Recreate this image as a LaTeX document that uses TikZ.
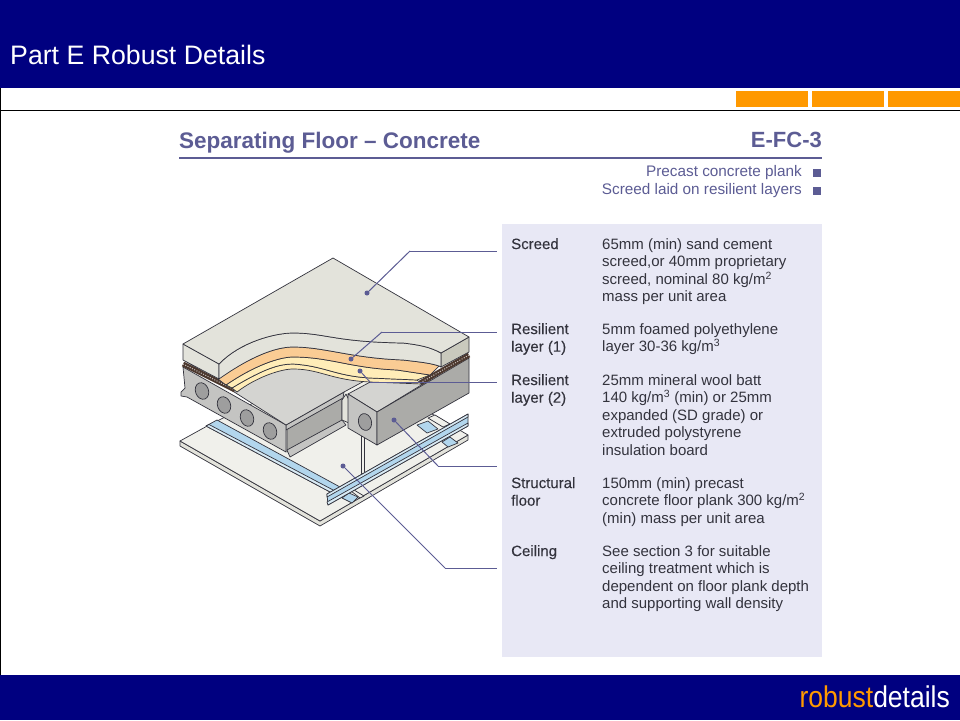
\documentclass[tikz,border=0pt]{standalone}
\usepackage{fontspec}
\setmainfont{Liberation Sans}
\newfontface\labfont[FakeBold=0.2]{Liberation Sans}
\usepackage{tikz}
\usetikzlibrary{positioning,shapes}
\definecolor{navy}{rgb}{0,0,0.5}
\definecolor{orng}{rgb}{1,0.6,0}
\definecolor{slate}{rgb}{0.36,0.36,0.58}
\definecolor{panel}{rgb}{0.91,0.91,0.96}
\definecolor{ink}{rgb}{0.2,0.2,0.24}
\definecolor{screedc}{rgb}{0.89,0.89,0.86}
\definecolor{screedd}{rgb}{0.79,0.79,0.74}
\definecolor{foam}{rgb}{0.98,0.80,0.58}
\definecolor{wool}{rgb}{1,0.93,0.72}
\definecolor{plankt}{rgb}{0.83,0.83,0.82}
\definecolor{plankl}{rgb}{0.77,0.77,0.76}
\definecolor{plankd}{rgb}{0.67,0.67,0.66}
\definecolor{holec}{rgb}{0.62,0.62,0.62}
\definecolor{ceil}{rgb}{0.94,0.94,0.92}
\definecolor{chan}{rgb}{0.70,0.84,0.93}
\definecolor{chanl}{rgb}{0.85,0.92,0.96}
\definecolor{strip}{rgb}{0.30,0.22,0.18}
\begin{document}
\begin{tikzpicture}[x=1pt,y=-1pt]
\tikzstyle{txt}=[inner sep=0pt,anchor=north west,align=left,text=ink,font=\fontsize{15}{17.6}\selectfont]
\tikzstyle{lab}=[txt,font=\fontsize{15}{17.6}\selectfont\labfont]
\tikzstyle{bull}=[txt,anchor=east,text=slate,font=\fontsize{15.3}{17.6}\selectfont]
\tikzstyle{bullet}=[rectangle,fill=slate,inner sep=0pt,minimum size=8pt]
\tikzstyle{tab}=[rectangle,fill=orng,inner sep=0pt,minimum width=72pt,minimum height=16pt]
\tikzstyle{dot}=[circle,fill=slate,inner sep=0pt,minimum size=5pt]
\tikzstyle{leader}=[draw=slate,line width=1pt]
\tikzstyle{part}=[draw=ink,line width=0.7pt,line join=round]
\tikzstyle{hole}=[ellipse,part,fill=holec,inner sep=0pt,minimum width=13pt,minimum height=17pt,rotate=20]
\tikzstyle{band}=[draw=strip,line width=5pt]

\useasboundingbox (0,0) rectangle (960,720);
\fill[white] (0,0) rectangle (960,720);

% frame
\fill[navy] (0,0) rectangle (960,88);
\fill[navy] (0,675) rectangle (960,720);
\draw[black,line width=1pt] (0,110.5) -- (960,110.5);
\draw[black,line width=1pt] (0.5,88) -- (0.5,675);
\node[tab] (tab1) at (772,99) {};
\node[tab] (tab2) at (848,99) {};
\node[tab] (tab3) at (924,99) {};
\node[inner sep=0pt,anchor=base west,text=white,font=\fontsize{26.7}{27}\selectfont] (title) at (10,64.5) {Part E Robust Details};
\node[inner sep=0pt,anchor=base east,xscale=0.883,font=\fontsize{30}{30}\selectfont] (logo) at (950,707) {\textcolor{orng}{robust}\textcolor{white}{details}};

% heading
\node[inner sep=0pt,anchor=base west,text=slate,font=\fontsize{22.5}{23}\selectfont\bfseries] (head) at (179,148.5) {Separating Floor -- Concrete};
\node[inner sep=0pt,anchor=base east,text=slate,font=\fontsize{22}{23}\selectfont\bfseries] (code) at (822,147.5) {E-FC-3};
\fill[slate] (179,156.5) rectangle (822,159);
\node[bull] (b1) at (802,173) {Precast concrete plank};
\node[bull] (b2) at (802,191) {Screed laid on resilient layers};
\node[bullet] (s1) at (817,172.5) {};
\node[bullet] (s2) at (817,190.5) {};

% table
\fill[panel] (502,224) rectangle (822,657);
\node[lab] (t1) at (511,238) {Screed};
\node[txt] (d1) at (602,238) {65mm (min) sand cement\\screed,or 40mm proprietary\\screed, nominal 80 kg/m\textsuperscript{2}\\mass per unit area};
\node[lab] (t2) at (511,323) {Resilient\\layer (1)};
\node[txt] (d2) at (602,323) {5mm foamed polyethylene\\layer 30-36 kg/m\textsuperscript{3}};
\node[lab] (t3) at (511,374) {Resilient\\layer (2)};
\node[txt] (d3) at (602,374) {25mm mineral wool batt\\140 kg/m\textsuperscript{3} (min) or 25mm\\expanded (SD grade) or\\extruded polystyrene\\insulation board};
\node[lab] (t4) at (511,477) {Structural\\floor};
\node[txt] (d4) at (602,477) {150mm (min) precast\\concrete floor plank 300 kg/m\textsuperscript{2}\\(min) mass per unit area};
\node[lab] (t5) at (511,545) {Ceiling};
\node[txt] (d5) at (602,545) {See section 3 for suitable\\ceiling treatment which is\\dependent on floor plank depth\\and supporting wall density};

% ceiling board
\draw[part,fill=screedc] (180,441) -- (320,521) -- (468,435) -- (468,440) -- (320,526) -- (180,446) -- cycle;
\draw[part,fill=ceil] (180,441) -- (320,521) -- (468,435) -- (340,360) -- (209,425) -- cycle;

% back channels
\draw[part,fill=ceil] (428,418) -- (435,415) -- (450,424) -- (443,427) -- cycle;
\draw[part,fill=chan] (417,425) -- (428,421) -- (438,429) -- (427,433) -- cycle;
\draw[part,fill=chan] (442,442) -- (450,437) -- (458,443) -- (448,447) -- cycle;
\draw[part,fill=chan] (342,498) -- (349,493) -- (358,497) -- (352,503) -- cycle;
\draw[part,fill=ceil] (351,491) -- (354,490) -- (364,496) -- (360,498) -- cycle;

% left channel
\draw[part,fill=chan] (206,426) -- (217,420) -- (340,487) -- (332,493) -- cycle;
\draw[part,fill=chanl] (206,426) -- (209,424.5) -- (335,491) -- (332,493) -- cycle;

% hanger
\draw[part,fill=ceil] (361.5,432) rectangle (364,473);

% left plank
\draw[part,fill=plankd] (287,429) -- (342,398) -- (342,422) -- (287,452) -- cycle;
\draw[part,fill=plankl] (287,450) -- (342,420) -- (346,425) -- (290,457) -- cycle;
\draw[part,fill=plankl] (286,425) -- (344,392) -- (343,398) -- (286,430) -- cycle;
\draw[part,fill=plankl] (183,367) -- (286,425) -- (286,452) -- (187,397) -- (181,396) -- (181,392) -- (185,388) -- cycle;
\draw[part,fill=plankt] (184,360) -- (293,360) -- (368,379) -- (344,392) -- (286,425) -- cycle;
\draw[part,fill=screedc] (342,400) -- (346,394) -- (349,400) -- (349,423) -- (342,420) -- cycle;
\node[hole] (h1) at (202,391) {};
\node[hole] (h2) at (224,405) {};
\node[hole] (h3) at (247,418) {};
\node[hole] (h4) at (270,431) {};

% right plank
\draw[part,fill=plankt] (348,394) -- (372,381) -- (422,382) -- (469,356) -- (377,412) -- cycle;
\draw[part,fill=plankl] (348,394) -- (377,412) -- (377,445) -- (348,428) -- cycle;
\draw[part,fill=plankd] (377,412) -- (469,358) -- (469,393) -- (377,445) -- cycle;
\node[hole,rotate=-5] (h5) at (365,422) {};

% front channel
\draw[part,fill=chan] (327,494) -- (468,414) -- (468,426) -- (328,505) -- cycle;
\draw[part,fill=chanl] (327,494) -- (468,414) -- (468,417) -- (327,497) -- cycle;
\draw[part,fill=chanl] (327,502) -- (468,423) -- (468,426) -- (328,505) -- cycle;

% brown strips
\draw[band] (183,364) -- (235,390);
\draw[white!70!strip,line width=1pt,dash pattern=on 1pt off 1.5pt] (183,364) -- (235,390);
\draw[band] (469,355) -- (420,383);
\draw[white!70!strip,line width=1pt,dash pattern=on 1pt off 1.5pt] (469,355) -- (420,383);

% layers
\draw[part,fill=wool] (232,388) .. controls (265,368) and (280,364) .. (293,364) .. controls (325,366) and (335,376) .. (370,378) -- (417,380) -- (422,384) -- (370,382) .. controls (330,380) and (320,369) .. (293,369) .. controls (280,369) and (255,378) .. (237,392) -- cycle;
\draw[part,fill=wool] (226,385) .. controls (255,365) and (280,357) .. (293,357) .. controls (330,357) and (350,368) .. (397,370) -- (430,375) -- (417,380) -- (370,378) .. controls (335,376) and (325,366) .. (293,364) .. controls (280,364) and (265,368) .. (232,388) -- cycle;
\draw[part,fill=foam] (218,379) .. controls (250,357) and (275,347) .. (293,347) .. controls (325,347) and (350,358) .. (403,360) .. controls (420,362) and (430,363) .. (439,366) -- (430,375) -- (397,370) .. controls (350,368) and (330,357) .. (293,357) .. controls (280,357) and (255,365) .. (226,385) -- cycle;

% screed
\draw[part,fill=screedd] (441,353) -- (469,337) -- (469,352) -- (441,367) -- cycle;
\draw[part,fill=screedc] (183,344) -- (219,364) -- (219,379) -- (183,360) -- cycle;
\draw[part,fill=screedc] (219,364) .. controls (240,342) and (275,333) .. (293,333) .. controls (325,333) and (335,342) .. (403,343) .. controls (420,345) and (430,347) .. (441,353) -- (441,367) -- (439,366) .. controls (430,363) and (420,362) .. (403,360) .. controls (350,358) and (325,347) .. (293,347) .. controls (275,347) and (250,357) .. (219,379) -- cycle;
\draw[part,fill=screedc] (183,344) -- (333,258) -- (469,337) -- (441,353) .. controls (430,347) and (420,345) .. (403,343) .. controls (335,342) and (325,333) .. (293,333) .. controls (275,333) and (240,342) .. (219,364) -- cycle;

% leaders
\node[dot] (dscreed) at (367,293) {};
\node[dot] (dfoam) at (351,359) {};
\node[dot] (dwool) at (360,371) {};
\node[dot] (dplank) at (394,420) {};
\node[dot] (dceil) at (343,466) {};
\coordinate (kscreed) at (410,251);
\coordinate (kfoam) at (382,332);
\coordinate (kwool) at (370,382);
\coordinate (kplank) at (438,466);
\coordinate (kceil) at (445,568);
\coordinate (escreed) at (497,251);
\coordinate (efoam) at (497,332);
\coordinate (ewool) at (497,382);
\coordinate (eplank) at (497,466);
\coordinate (eceil) at (497,568);
\path[leader]
	(dscreed) edge [] (kscreed)
	(kscreed) edge [] (escreed)
	(dfoam) edge [] (kfoam)
	(kfoam) edge [] (efoam)
	(dwool) edge [] (kwool)
	(kwool) edge [] (ewool)
	(dplank) edge [] (kplank)
	(kplank) edge [] (eplank)
	(dceil) edge [] (kceil)
	(kceil) edge [] (eceil);
\end{tikzpicture}
\end{document}
